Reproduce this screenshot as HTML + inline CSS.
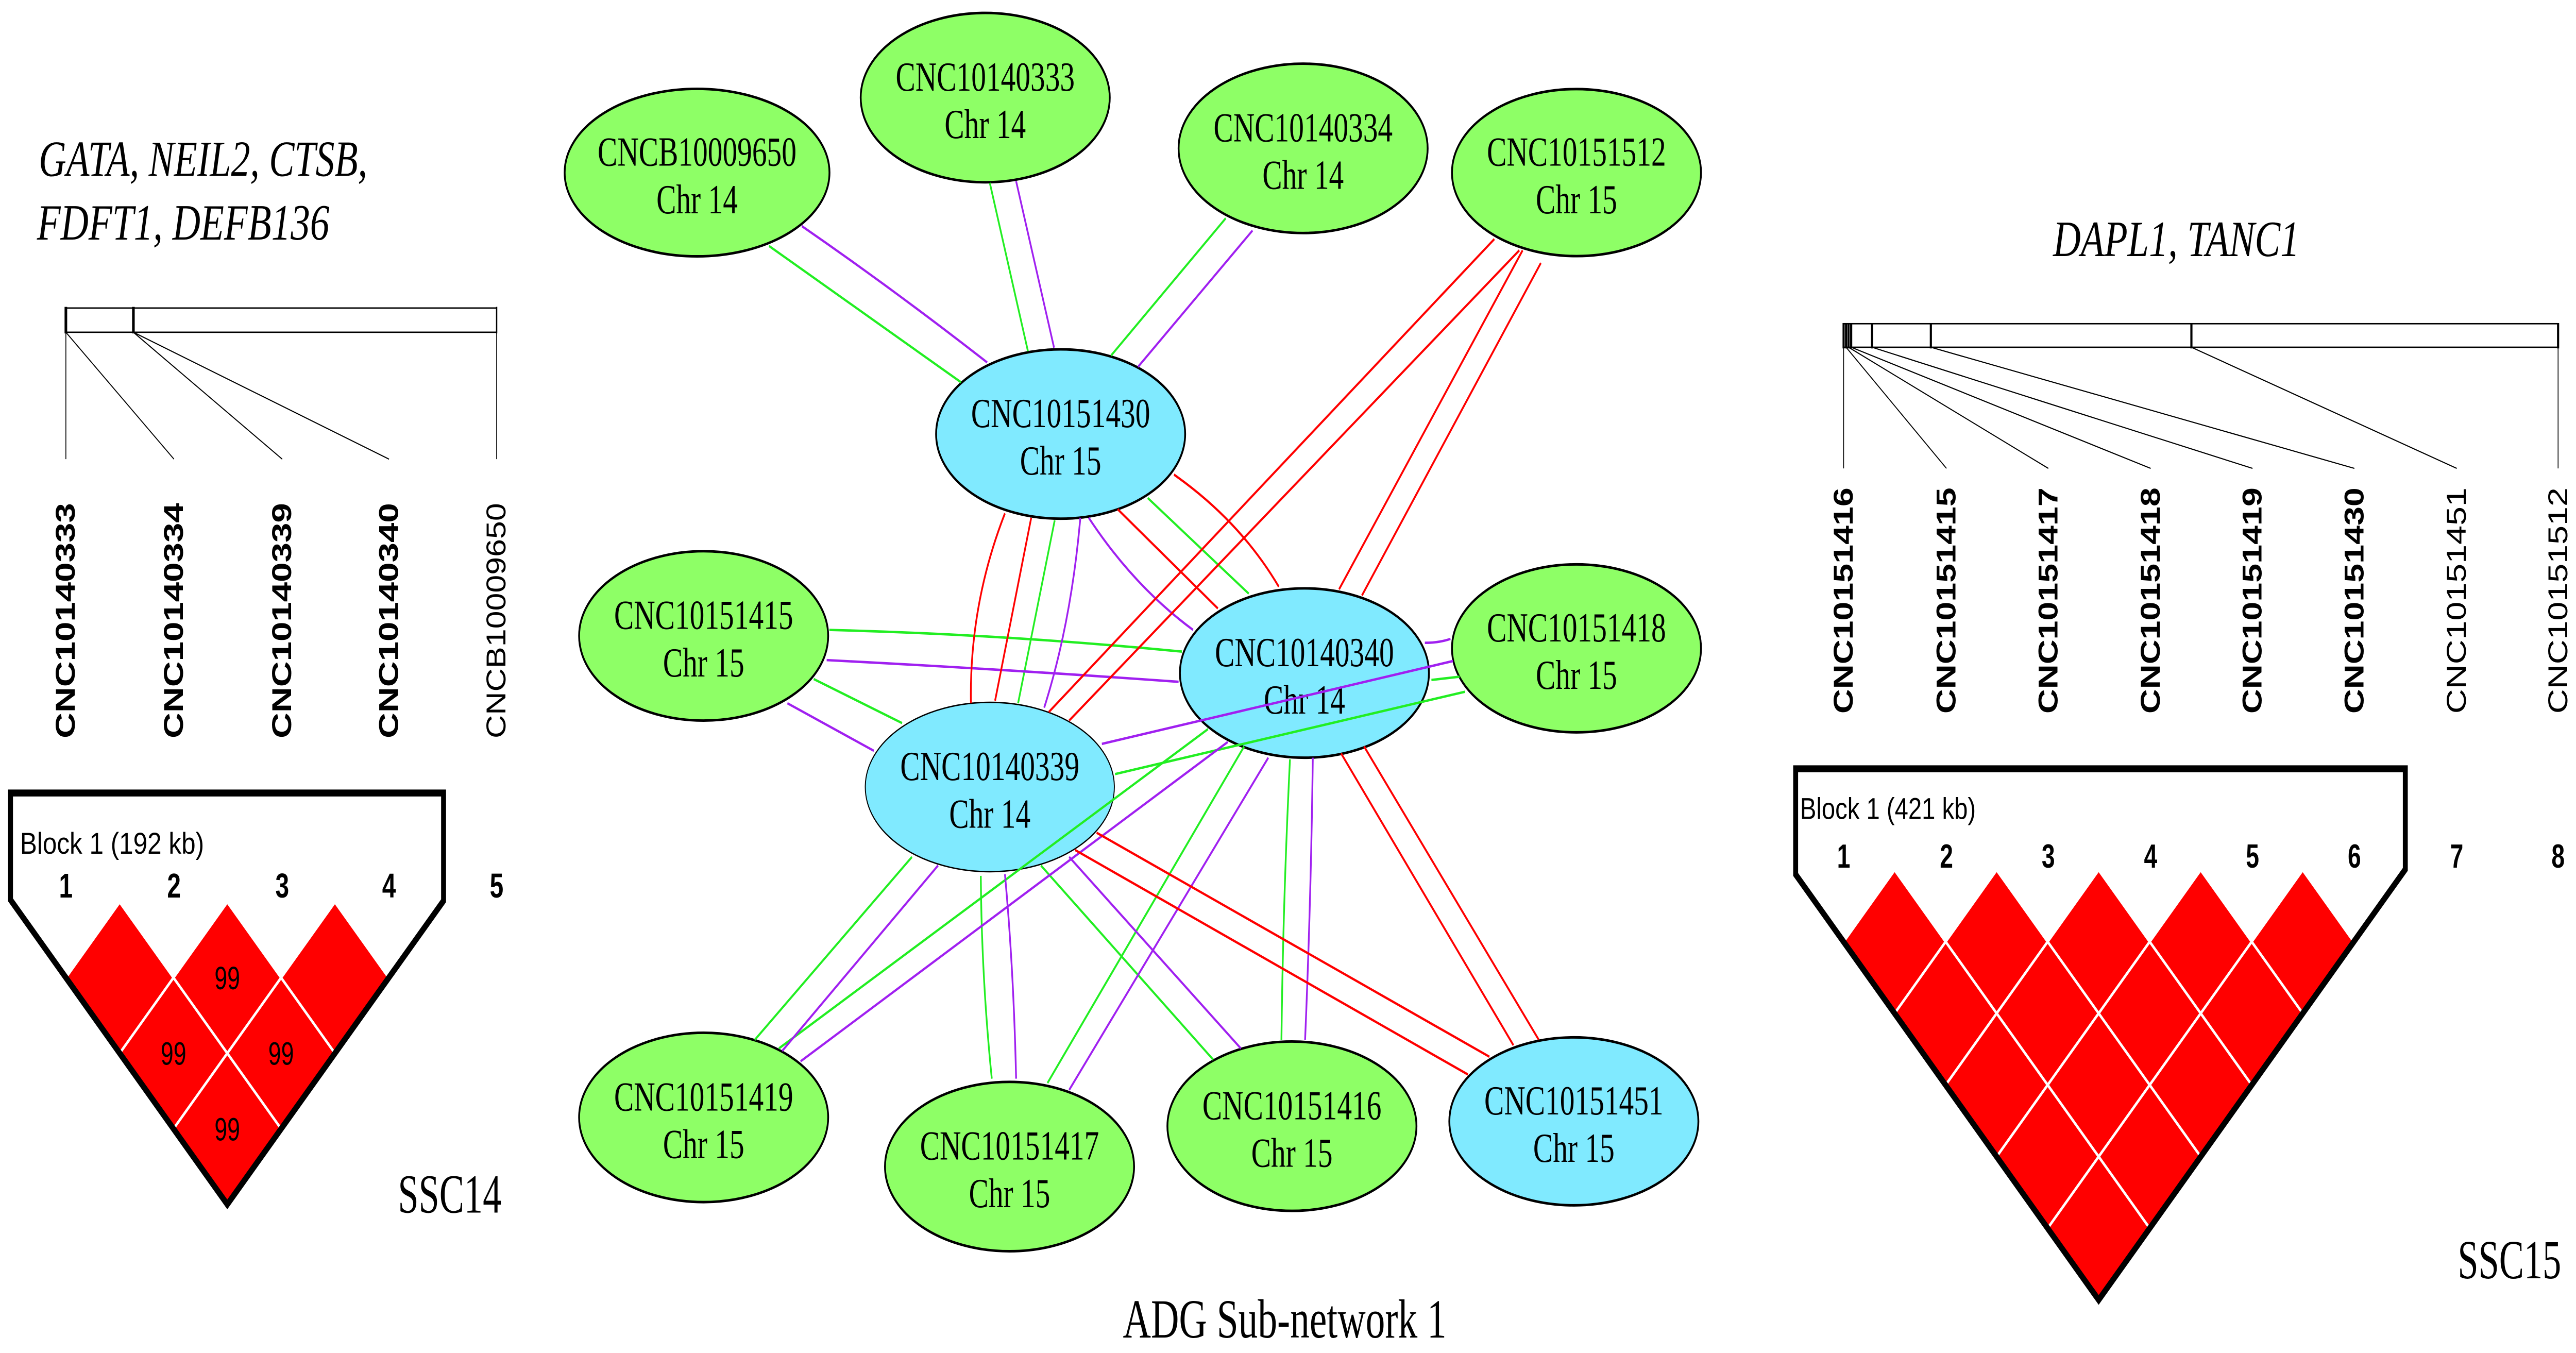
<!DOCTYPE html>
<html><head><meta charset="utf-8"><style>
html,body{margin:0;padding:0;background:#fff;width:100vw;height:100vh;overflow:hidden;}
svg{display:block;width:100vw;height:100vh;position:absolute;left:0;top:0;}
.sr{font-family:"Liberation Serif",serif;}
.ss{font-family:"Liberation Sans",sans-serif;}
</style></head><body>
<svg viewBox="0 0 1568 586.4" preserveAspectRatio="none" xmlns="http://www.w3.org/2000/svg">
<rect width="1568" height="586.4" fill="#fff"/>

<text class="sr" x="23.6" y="76.3" font-size="22" font-style="italic" textLength="200" lengthAdjust="spacingAndGlyphs">GATA, NEIL2, CTSB,</text>
<text class="sr" x="22.5" y="103.8" font-size="22" font-style="italic" textLength="178" lengthAdjust="spacingAndGlyphs">FDFT1, DEFB136</text>
<rect x="40.1" y="133.5" width="262.2" height="10.5" fill="none" stroke="#000" stroke-width="0.6"/>
<g stroke="#000" stroke-width="1.6"><line x1="40.1" y1="133" x2="40.1" y2="144.5"/><line x1="81.2" y1="133" x2="81.2" y2="144.5"/><line x1="302.3" y1="133" x2="302.3" y2="144.5" stroke-width="0.8"/></g>
<g stroke="#000" stroke-width="0.5">
<line x1="40.1" y1="144" x2="40.1" y2="199"/><line x1="40.1" y1="144" x2="105.9" y2="199"/>
<line x1="81.2" y1="144" x2="171.8" y2="199"/><line x1="81.2" y1="144" x2="236.8" y2="199"/>
<line x1="302.3" y1="144" x2="302.3" y2="199"/></g>
<g class="ss" font-size="16.5">
<text transform="translate(45.5,320) rotate(-90)" font-weight="bold" textLength="102" lengthAdjust="spacingAndGlyphs">CNC10140333</text>
<text transform="translate(111.3,320) rotate(-90)" font-weight="bold" textLength="102" lengthAdjust="spacingAndGlyphs">CNC10140334</text>
<text transform="translate(177.2,320) rotate(-90)" font-weight="bold" textLength="102" lengthAdjust="spacingAndGlyphs">CNC10140339</text>
<text transform="translate(242.2,320) rotate(-90)" font-weight="bold" textLength="102" lengthAdjust="spacingAndGlyphs">CNC10140340</text>
<text transform="translate(307.7,320) rotate(-90)" textLength="102" lengthAdjust="spacingAndGlyphs">CNCB10009650</text>
</g>
<g fill="#ff0000" stroke="#fff" stroke-width="1.3">
<path d="M72.85,391 l32.75,32.75 l-32.75,32.75 l-32.75,-32.75z"/>
<path d="M138.35,391 l32.75,32.75 l-32.75,32.75 l-32.75,-32.75z"/>
<path d="M203.85,391 l32.75,32.75 l-32.75,32.75 l-32.75,-32.75z"/>
<path d="M105.6,423.75 l32.75,32.75 l-32.75,32.75 l-32.75,-32.75z"/>
<path d="M171.1,423.75 l32.75,32.75 l-32.75,32.75 l-32.75,-32.75z"/>
<path d="M138.35,456.5 l32.75,32.75 l-32.75,32.75 l-32.75,-32.75z"/>
</g>
<polygon points="6.4,343.7 270,343.7 270,390.4 138.35,522 6.4,390" fill="none" stroke="#000" stroke-width="3"/>
<text class="ss" x="12.2" y="370" font-size="13" textLength="112" lengthAdjust="spacingAndGlyphs">Block 1 (192 kb)</text>
<g class="ss" font-size="15" font-weight="bold" text-anchor="middle">
<text x="40.1" y="389">1</text><text x="105.9" y="389">2</text><text x="171.8" y="389">3</text><text x="236.8" y="389">4</text><text x="302.3" y="389">5</text></g>
<g class="ss" font-size="14" text-anchor="middle">
<text x="138.35" y="428.8">99</text><text x="105.6" y="461.5">99</text><text x="171.1" y="461.5">99</text><text x="138.35" y="494.3">99</text></g>
<text class="sr" x="242.2" y="525.6" font-size="24" textLength="63" lengthAdjust="spacingAndGlyphs">SSC14</text>

<text class="sr" x="1249.7" y="111" font-size="22" font-style="italic" textLength="150" lengthAdjust="spacingAndGlyphs">DAPL1, TANC1</text>
<rect x="1122.2" y="140.3" width="434.9" height="10.2" fill="none" stroke="#000" stroke-width="0.6"/>
<g stroke="#000" stroke-width="1.3">
<line x1="1122.2" y1="140" x2="1122.2" y2="151"/><line x1="1123.7" y1="140" x2="1123.7" y2="151"/>
<line x1="1125.2" y1="140" x2="1125.2" y2="151"/><line x1="1126.8" y1="140" x2="1126.8" y2="151"/>
<line x1="1139.5" y1="140" x2="1139.5" y2="151"/><line x1="1175.3" y1="140" x2="1175.3" y2="151"/>
<line x1="1333.9" y1="140" x2="1333.9" y2="151"/><line x1="1557.1" y1="140" x2="1557.1" y2="151"/></g>
<g stroke="#000" stroke-width="0.5">
<line x1="1122.2" y1="150.5" x2="1122.2" y2="203"/><line x1="1123.7" y1="150.5" x2="1184.8" y2="203"/>
<line x1="1125.2" y1="150.5" x2="1246.8" y2="203"/><line x1="1126.8" y1="150.5" x2="1309.1" y2="203"/>
<line x1="1139.5" y1="150.5" x2="1371.1" y2="203"/><line x1="1175.3" y1="150.5" x2="1433.1" y2="203"/>
<line x1="1333.9" y1="150.5" x2="1495.4" y2="203"/><line x1="1557.1" y1="150.5" x2="1557.1" y2="203"/></g>
<g class="ss" font-size="16.5">
<text transform="translate(1127.7,309.3) rotate(-90)" font-weight="bold" textLength="98" lengthAdjust="spacingAndGlyphs">CNC10151416</text>
<text transform="translate(1190.3,309.3) rotate(-90)" font-weight="bold" textLength="98" lengthAdjust="spacingAndGlyphs">CNC10151415</text>
<text transform="translate(1252.3,309.3) rotate(-90)" font-weight="bold" textLength="98" lengthAdjust="spacingAndGlyphs">CNC10151417</text>
<text transform="translate(1314.6,309.3) rotate(-90)" font-weight="bold" textLength="98" lengthAdjust="spacingAndGlyphs">CNC10151418</text>
<text transform="translate(1376.6,309.3) rotate(-90)" font-weight="bold" textLength="98" lengthAdjust="spacingAndGlyphs">CNC10151419</text>
<text transform="translate(1438.6,309.3) rotate(-90)" font-weight="bold" textLength="98" lengthAdjust="spacingAndGlyphs">CNC10151430</text>
<text transform="translate(1500.9,309.3) rotate(-90)" textLength="98" lengthAdjust="spacingAndGlyphs">CNC10151451</text>
<text transform="translate(1562.6,309.3) rotate(-90)" textLength="98" lengthAdjust="spacingAndGlyphs">CNC10151512</text>
</g>
<g fill="#ff0000" stroke="#fff" stroke-width="1.3">
<path d="M1153.25,377.1 l31.05,31.05 l-31.05,31.05 l-31.05,-31.05z"/>
<path d="M1215.35,377.1 l31.05,31.05 l-31.05,31.05 l-31.05,-31.05z"/>
<path d="M1277.45,377.1 l31.05,31.05 l-31.05,31.05 l-31.05,-31.05z"/>
<path d="M1339.55,377.1 l31.05,31.05 l-31.05,31.05 l-31.05,-31.05z"/>
<path d="M1401.65,377.1 l31.05,31.05 l-31.05,31.05 l-31.05,-31.05z"/>
<path d="M1184.3,408.15 l31.05,31.05 l-31.05,31.05 l-31.05,-31.05z"/>
<path d="M1246.4,408.15 l31.05,31.05 l-31.05,31.05 l-31.05,-31.05z"/>
<path d="M1308.5,408.15 l31.05,31.05 l-31.05,31.05 l-31.05,-31.05z"/>
<path d="M1370.6,408.15 l31.05,31.05 l-31.05,31.05 l-31.05,-31.05z"/>
<path d="M1215.35,439.2 l31.05,31.05 l-31.05,31.05 l-31.05,-31.05z"/>
<path d="M1277.45,439.2 l31.05,31.05 l-31.05,31.05 l-31.05,-31.05z"/>
<path d="M1339.55,439.2 l31.05,31.05 l-31.05,31.05 l-31.05,-31.05z"/>
<path d="M1246.4,470.25 l31.05,31.05 l-31.05,31.05 l-31.05,-31.05z"/>
<path d="M1308.5,470.25 l31.05,31.05 l-31.05,31.05 l-31.05,-31.05z"/>
<path d="M1277.45,501.3 l31.05,31.05 l-31.05,31.05 l-31.05,-31.05z"/>
</g>
<polygon points="1093,333.2 1464.1,333.2 1464.1,376.8 1277.45,563.4 1093,379" fill="none" stroke="#000" stroke-width="3"/>
<text class="ss" x="1095.7" y="355" font-size="13" textLength="107" lengthAdjust="spacingAndGlyphs">Block 1 (421 kb)</text>
<g class="ss" font-size="14.5" font-weight="bold" text-anchor="middle">
<text x="1122.2" y="376">1</text><text x="1184.8" y="376">2</text><text x="1246.8" y="376">3</text><text x="1309.1" y="376">4</text>
<text x="1371.1" y="376">5</text><text x="1433.1" y="376">6</text><text x="1495.4" y="376">7</text><text x="1557.1" y="376">8</text></g>
<text class="sr" x="1496" y="554" font-size="24" textLength="63" lengthAdjust="spacingAndGlyphs">SSC15</text>

<g stroke="#000" stroke-width="1.1">
<ellipse cx="424.3" cy="74.8" rx="80.6" ry="36.3" fill="#8eff66"/>
<ellipse cx="599.7" cy="42.3" rx="75.8" ry="36.7" fill="#8eff66"/>
<ellipse cx="793.2" cy="64.3" rx="75.8" ry="36.7" fill="#8eff66"/>
<ellipse cx="959.6" cy="74.8" rx="75.8" ry="36.2" fill="#8eff66"/>
<ellipse cx="645.6" cy="188.1" rx="75.8" ry="36.7" fill="#80eaff"/>
<ellipse cx="428.3" cy="275.6" rx="75.8" ry="36.7" fill="#8eff66"/>
<ellipse cx="794" cy="291.7" rx="75.8" ry="36.7" fill="#80eaff"/>
<ellipse cx="959.6" cy="281" rx="75.8" ry="36.4" fill="#8eff66"/>
<ellipse cx="602.5" cy="341.1" rx="75.8" ry="36.7" fill="#80eaff" stroke-width="0.6"/>
<ellipse cx="428.3" cy="484.3" rx="75.8" ry="36.7" fill="#8eff66"/>
<ellipse cx="614.5" cy="505.6" rx="75.8" ry="36.7" fill="#8eff66"/>
<ellipse cx="786.4" cy="488.1" rx="75.8" ry="36.7" fill="#8eff66"/>
<ellipse cx="958" cy="486" rx="75.8" ry="36.4" fill="#80eaff"/>
</g>
<g class="sr" font-size="18" text-anchor="middle">
<text x="424.3" y="71.8">CNCB10009650</text><text x="424.3" y="92.4">Chr 14</text>
<text x="599.7" y="39.3">CNC10140333</text><text x="599.7" y="59.9">Chr 14</text>
<text x="793.2" y="61.3">CNC10140334</text><text x="793.2" y="81.9">Chr 14</text>
<text x="959.6" y="71.8">CNC10151512</text><text x="959.6" y="92.4">Chr 15</text>
<text x="645.6" y="185.1">CNC10151430</text><text x="645.6" y="205.7">Chr 15</text>
<text x="428.3" y="272.6">CNC10151415</text><text x="428.3" y="293.2">Chr 15</text>
<text x="794" y="288.7">CNC10140340</text><text x="794" y="309.3">Chr 14</text>
<text x="959.6" y="278">CNC10151418</text><text x="959.6" y="298.6">Chr 15</text>
<text x="602.5" y="338.1">CNC10140339</text><text x="602.5" y="358.7">Chr 14</text>
<text x="428.3" y="481.3">CNC10151419</text><text x="428.3" y="501.9">Chr 15</text>
<text x="614.5" y="502.6">CNC10151417</text><text x="614.5" y="523.2">Chr 15</text>
<text x="786.4" y="485.1">CNC10151416</text><text x="786.4" y="505.7">Chr 15</text>
<text x="958" y="483">CNC10151451</text><text x="958" y="503.6">Chr 15</text>
</g>
<text class="sr" x="683.5" y="579.7" font-size="24" textLength="197" lengthAdjust="spacingAndGlyphs">ADG  Sub-network 1</text>

<g fill="none" stroke-width="1.05">
<g stroke="#22ee22">
<line x1="468.1" y1="106.6" x2="585" y2="165.7"/>
<line x1="602.5" y1="79.3" x2="625.7" y2="152.2"/>
<line x1="746.1" y1="94.6" x2="676.3" y2="154.1"/>
<line x1="642" y1="225.5" x2="619.7" y2="304.8"/>
<line x1="698.6" y1="215.8" x2="760.1" y2="257.3"/>
<path d="M504.8,273 Q612,275 719.4,282.4"/>
<line x1="495.3" y1="294.3" x2="549.1" y2="313.4"/>
<line x1="871.3" y1="294.7" x2="888.4" y2="293.3"/>
<line x1="678.7" y1="335.5" x2="891.8" y2="299.8"/>
<line x1="555.1" y1="371.4" x2="459.4" y2="450.7"/>
<line x1="735.3" y1="316" x2="474.1" y2="454.4"/>
<path d="M597,379.6 Q597.5,424 603.7,467.5"/>
<line x1="757.3" y1="323.5" x2="637.6" y2="469.4"/>
<line x1="633.6" y1="375.1" x2="738.5" y2="459.3"/>
<path d="M785.2,329.1 Q781,390 780,450.7"/>
</g>
<g stroke="#a020f0">
<path d="M488.1,98 Q545,126 600.9,157.1"/>
<line x1="618.5" y1="78.5" x2="641.6" y2="150.7"/>
<line x1="762.4" y1="99.9" x2="692.7" y2="159"/>
<path d="M657.6,224.4 Q652,270 635.6,306.7"/>
<path d="M662.7,224.4 Q690,254 726.2,273"/>
<path d="M503.2,286.1 Q610,290 717.4,295.5"/>
<line x1="479.3" y1="304.8" x2="531.9" y2="325.4"/>
<path d="M867.3,278.6 Q876,278.6 882.9,276.9"/>
<line x1="670.7" y1="322.4" x2="884.4" y2="286.5"/>
<line x1="571" y1="375.1" x2="476.1" y2="455.5"/>
<line x1="747.3" y1="321.6" x2="487.3" y2="460"/>
<path d="M611.7,378.9 Q617,420 618.5,467.5"/>
<line x1="772" y1="328.4" x2="650.8" y2="472.4"/>
<line x1="650.8" y1="371.4" x2="755.3" y2="454.4"/>
<path d="M799.1,328.4 Q798,390 794.4,450.7"/>
</g>
<g stroke="#ff0000">
<line x1="909.6" y1="103.6" x2="638.4" y2="308.6"/>
<line x1="924.8" y1="108.5" x2="650.8" y2="312.3"/>
<line x1="926.8" y1="108.5" x2="815.1" y2="255.4"/>
<line x1="937.9" y1="114" x2="829" y2="258.1"/>
<path d="M611.7,222.5 Q590,262 591,304.8"/>
<line x1="627.7" y1="224.4" x2="605.7" y2="303.7"/>
<line x1="680.3" y1="220.7" x2="741.3" y2="263.7"/>
<path d="M714.6,205.7 Q755,226 778.4,254.3"/>
<line x1="667.5" y1="360.9" x2="906.6" y2="458"/>
<line x1="654.4" y1="368.4" x2="893.5" y2="465.7"/>
<line x1="816.3" y1="326.5" x2="921.2" y2="453"/>
<line x1="830.3" y1="323.5" x2="936.6" y2="450.6"/>
</g>
</g>
</svg>
</body></html>
